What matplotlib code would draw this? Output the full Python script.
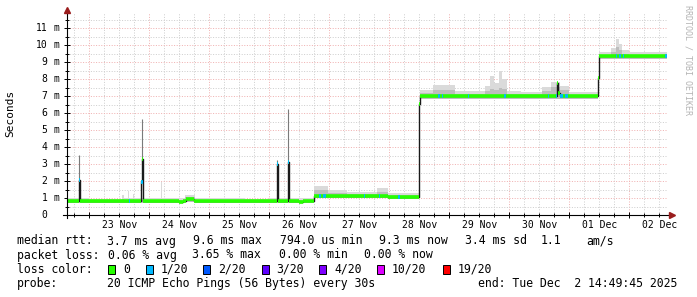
import numpy as np
import matplotlib
matplotlib.use('Agg')
import matplotlib.pyplot as plt
from matplotlib.patches import Rectangle

W, H = 697, 297

# ---------------- data (time in days since 2025-11-22 00:00, values in ms) ----------------
t_start, t_end = 0.618, 10.618

med_t = [0.618, 0.826, 0.843, 1.858, 1.875, 1.892, 2.50, 2.56, 2.61, 2.75,
         4.125, 4.142, 4.308, 4.325, 4.50, 4.56, 4.75, 5.97, 6.50, 6.517,
         7.60, 7.95, 8.800, 8.817, 8.84, 9.483, 9.50, 10.618]
med_v = [0.83, 2.05, 0.83, 1.95, 3.30, 0.83, 0.75, 0.83, 0.93, 0.83,
         3.00, 0.83, 3.10, 0.83, 0.77, 0.83, 1.12, 1.04, 6.57, 7.00,
         7.04, 7.00, 7.80, 7.20, 7.00, 8.10, 9.35, 9.35]

smoke_t = [0.618, 1.00, 1.55, 1.58, 1.65, 1.667, 1.72, 1.74, 2.20, 2.217,
           2.40, 2.60, 2.76, 3.20, 3.60, 4.00, 4.45, 4.75, 4.98, 5.30,
           5.80, 5.97, 6.50, 6.517, 6.73, 7.10, 7.60, 7.68, 7.75, 7.82,
           7.88, 7.96, 8.20, 8.55, 8.70, 8.85, 9.00, 9.483, 9.50, 9.70,
           9.78, 9.82, 9.88, 10.00, 10.618]
smoke_lo = [0.72, 0.73, 0.73, 0.73, 0.73, 0.73, 0.73, 0.73, 0.73, 0.73,
            0.70, 0.78, 0.73, 0.73, 0.73, 0.72, 0.70, 1.00, 1.00, 1.00,
            1.00, 0.95, 6.57, 6.85, 6.85, 6.85, 6.85, 6.85, 6.85, 6.85,
            6.85, 6.85, 6.85, 6.85, 6.85, 6.85, 6.85, 8.10, 9.20, 9.20,
            9.20, 9.20, 9.20, 9.20, 9.20]
smoke_dark = [0.92, 0.90, 0.92, 0.90, 0.95, 0.90, 0.95, 0.90, 0.95, 0.90,
              0.90, 1.05, 0.90, 0.90, 0.90, 0.90, 0.90, 1.45, 1.28, 1.25,
              1.35, 1.15, 6.57, 7.20, 7.35, 7.15, 7.30, 7.45, 7.35, 7.50,
              7.40, 7.15, 7.15, 7.30, 7.55, 7.35, 7.10, 8.10, 9.45, 9.60,
              9.90, 9.70, 9.50, 9.45, 9.45]
smoke_hi = [1.00, 0.96, 1.15, 0.98, 1.43, 1.02, 1.25, 1.00, 1.96, 1.02,
            0.98, 1.20, 0.98, 1.00, 0.97, 0.99, 0.98, 1.70, 1.45, 1.38,
            1.60, 1.30, 6.57, 7.35, 7.65, 7.28, 7.60, 8.20, 7.80, 8.50,
            8.00, 7.30, 7.25, 7.55, 7.85, 7.60, 7.22, 8.10, 9.60, 9.85,
            10.40, 10.05, 9.70, 9.62, 9.62]

spike_t = [0.834, 1.883, 4.133, 4.316]
spike_top = [3.55, 5.65, 3.25, 6.27]

loss_t0 = [0.826, 1.655, 1.858, 4.125, 4.308, 4.83, 4.90, 5.58, 5.83, 6.15,
           6.81, 6.87, 7.31, 7.91, 8.64, 8.78, 8.84, 8.93, 9.78, 9.83, 9.89, 10.59]
loss_t1 = [0.843, 1.672, 1.892, 4.142, 4.325, 4.86, 4.95, 5.60, 5.85, 6.17,
           6.84, 6.90, 7.33, 7.94, 8.66, 8.80, 8.90, 8.98, 9.80, 9.86, 9.91, 10.618]

day_labels = ['23 Nov', '24 Nov', '25 Nov', '26 Nov', '27 Nov',
              '28 Nov', '29 Nov', '30 Nov', '01 Dec', '02 Dec']
y_values = list(range(0, 12))

line1 = [(16.7, 'median rtt:'), (107.3, '3.7 ms avg'), (193.3, '9.6 ms max'),
         (280.0, '794.0 us min'), (379.0, '9.3 ms now'), (465.0, '3.4 ms sd'),
         (541.0, '1.1'), (586.7, 'am/s')]
line2 = [(16.7, 'packet loss:'), (107.6, '0.06 % avg'), (192.4, '3.65 % max'),
         (279.0, '0.00 % min'), (364.4, '0.00 % now')]
loss_names = ['0', '1/20', '2/20', '3/20', '4/20', '10/20', '19/20']
loss_colors = ['#26ff00', '#00b8ff', '#0059ff', '#5e00ff', '#7e00ff', '#dd00ff', '#ff0000']
loss_box_x = [108.3, 145.7, 203.3, 261.7, 319.3, 376.7, 442.7]
line4 = [(16.7, 'probe:'), (107.3, '20 ICMP Echo Pings (56 Bytes) every 30s'),
         (478.3, 'end: Tue Dec  2 14:49:45 2025')]

# ---------------- figure ----------------
MONO = 'DejaVu Sans Mono'
plt.rcParams['font.family'] = [MONO]

fig = plt.figure(figsize=(W / 100, H / 100), dpi=100)
fig.patch.set_facecolor('white')
AX_L, AX_R, AX_B, AX_T = 66.5, 666.5, 215.0, 13.0
ax = fig.add_axes([AX_L / W, (H - AX_B) / H, (AX_R - AX_L) / W, (AX_B - AX_T) / H])
ax.set_xlim(t_start, t_end)
ax.set_ylim(0, (AX_B - AX_T) / 16.97)
for s in ax.spines.values():
    s.set_visible(False)

# grid
ax.set_xticks(np.arange(1, 11, 1.0))
ax.set_xticks(np.arange(0.75, 10.62, 0.25), minor=True)
ax.set_yticks(np.arange(0, 12, 1.0))
ax.set_yticks(np.arange(0.5, 11.9, 0.5), minor=True)
ax.grid(which='minor', color='#cfcfcf', linestyle=(0, (1, 1.6)), linewidth=0.72)
ax.grid(which='major', color='#f0b2b2', linestyle=(0, (1, 1.6)), linewidth=0.72)
ax.set_axisbelow(True)
ax.tick_params(which='both', labelleft=False, labelbottom=False, direction='inout', width=0.7, color='#000000')
ax.tick_params(which='major', length=4)
ax.tick_params(which='minor', length=2.5)

# smoke
ax.fill_between(smoke_t, smoke_lo, smoke_hi, step='post', color='#dadada', linewidth=0, zorder=2)
ax.fill_between(smoke_t, smoke_lo, smoke_dark, step='post', color='#bdbdbd', linewidth=0, zorder=2)
base_at = [med_v[int(np.searchsorted(med_t, t, side='right')) - 1] for t in spike_t]
ax.vlines(spike_t, base_at, spike_top, color='#7a7a7a', linewidth=0.8, zorder=2)

# median: dark step line, then colored segments
ax.step(med_t, med_v, where='post', color='#1a1a1a', linewidth=1.0, zorder=3)
ax.hlines(med_v[:-1], med_t[:-1], med_t[1:], color=loss_colors[0], linewidth=2.6, zorder=4,
          capstyle='butt')
loss_v = [med_v[int(np.searchsorted(med_t, t, side='right')) - 1] for t in loss_t0]
ax.hlines(loss_v, loss_t0, loss_t1, color=loss_colors[1], linewidth=2.6, zorder=5, capstyle='butt')

# axes lines with arrows
def fx(px):
    return (px - AX_L) / (AX_R - AX_L)

def fy(py):
    return (AX_B - py) / (AX_B - AX_T)

ax.plot([fx(62.5), fx(671)], [0, 0], color='black', lw=0.8, transform=ax.transAxes, clip_on=False, zorder=6)
ax.plot([0, 0], [fy(218), fy(11)], color='black', lw=0.8, transform=ax.transAxes, clip_on=False, zorder=6)
ax.plot([fx(671.5)], [0], marker='>', ms=4, color='#9a1d1d', mec='#9a1d1d', transform=ax.transAxes,
        clip_on=False, zorder=7)
ax.plot([0], [fy(10)], marker='^', ms=4, color='#9a1d1d', mec='#9a1d1d', transform=ax.transAxes,
        clip_on=False, zorder=7)

# tick labels
ytr = ax.get_yaxis_transform()
for v in y_values:
    ax.text(fx(47.6), v, str(v), ha='right', va='center', fontsize=7, transform=ytr)
    if v > 0:
        ax.text(fx(53.4), v, 'm', ha='left', va='center', fontsize=7, transform=ytr)
xtr = ax.get_xaxis_transform()
for i, lab in enumerate(day_labels):
    ax.text(1.5 + i, fy(224.5), lab, ha='center', va='center', fontsize=7, transform=xtr)

def P(x, y):
    return (x / W, 1 - y / H)

fig.text(*P(10.7, 113.7), 'Seconds', rotation=90, ha='center', va='center', fontsize=8)
fig.text(*P(687.7, 60), 'RRDTOOL / TOBI OETIKER', rotation=270, ha='center', va='center',
         fontsize=6, color='#b4b4b4')

LFS = 8.3
for x, s in line1:
    fig.text(*P(x, 241), s, ha='left', va='center', fontsize=LFS)
for x, s in line2:
    fig.text(*P(x, 255), s, ha='left', va='center', fontsize=LFS)
fig.text(*P(16.7, 269.3), 'loss color:', ha='left', va='center', fontsize=LFS)
for bx, name, col in zip(loss_box_x, loss_names, loss_colors):
    fig.patches.append(Rectangle(P(bx, 273.8), 7 / W, 8.7 / H, transform=fig.transFigure,
                                 facecolor=col, edgecolor='black', linewidth=0.7))
    fig.text(*P(bx + 15, 269.3), name, ha='left', va='center', fontsize=LFS)
for x, s in line4:
    fig.text(*P(x, 283.3), s, ha='left', va='center', fontsize=LFS)

fig.savefig('out.png', dpi=100, facecolor='white')
